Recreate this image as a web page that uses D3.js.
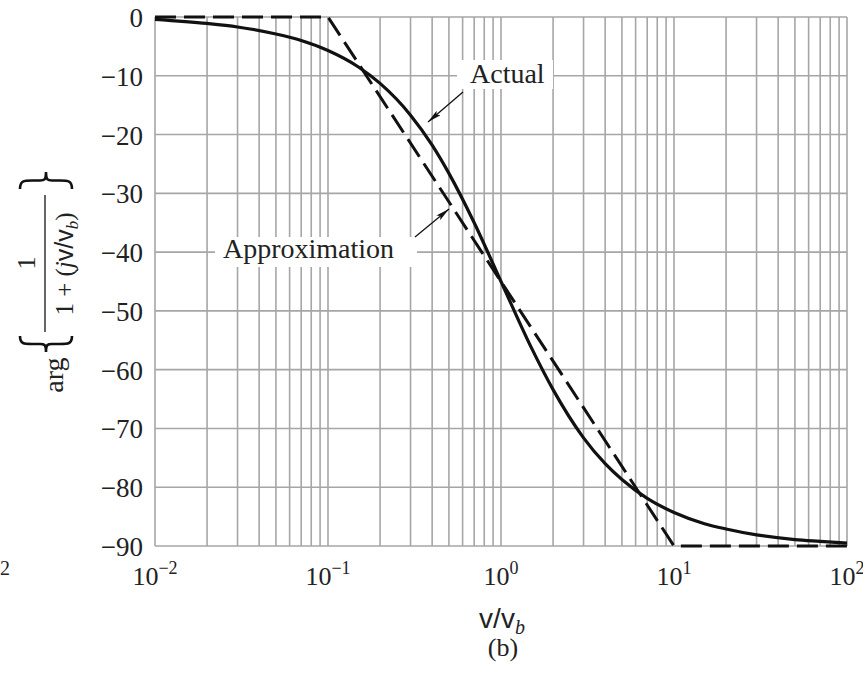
<!DOCTYPE html>
<html><head><meta charset="utf-8">
<script src="https://cdn.jsdelivr.net/npm/d3@7"></script>
<style>body{margin:0;background:#fff}</style>
</head><body>
<svg id="c" width="863" height="680"></svg>
<script>
// ---- data ----
const freq = [0.01,0.02,0.03,0.05,0.07,0.1,0.15,0.2,0.3,0.4,0.5,0.7,1,1.5,2,3,4,5,7,10,15,20,30,50,70,100];
const actualPhase = [-0.4,-1.1,-1.7,-2.9,-4,-5.7,-8.5,-11.3,-16.7,-21.8,-26.6,-35,-45,-56.3,-63.4,-71.6,-76,-78.7,-81.9,-84.3,-86.2,-87.1,-88.1,-88.9,-89.2,-89.5];
const approxFreq = [0.01,0.1,10,100];
const approxPhase = [0,0,-90,-90];
const xTickExp = ["−2","−1","0","1","2"];
const xTickVals = [0.01,0.1,1,10,100];
const yTickVals = [0,-10,-20,-30,-40,-50,-60,-70,-80,-90];
const yTickLabels = ["0","−10","−20","−30","−40","−50","−60","−70","−80","−90"];

const svg = d3.select("#c");
const x = d3.scaleLog().domain([0.01,100]).range([155,847]);
const y = d3.scaleLinear().domain([0,-90]).range([17,546]);
const serif = "'Liberation Serif','Times New Roman',serif";
const sans = "'Liberation Sans',Arial,sans-serif";

// grid
const gridX = [];
for (let k=-2;k<2;k++) for (let m=1;m<10;m++) gridX.push(m*Math.pow(10,k));
gridX.push(100);
const grid = svg.append("g").attr("stroke","#a6a6a6").attr("stroke-width",1.6);
grid.selectAll(".vx").data(gridX).join("line")
  .attr("x1",d=>x(d)).attr("x2",d=>x(d)).attr("y1",y(0)).attr("y2",y(-90));
grid.selectAll(".hy").data(yTickVals).join("line")
  .attr("x1",x(0.01)).attr("x2",x(100)).attr("y1",d=>y(d)).attr("y2",d=>y(d));

// tick labels
svg.append("g").selectAll("text").data(yTickVals).join("text")
  .attr("x",143).attr("y",d=>y(d)+10).attr("text-anchor","end")
  .attr("font-family",serif).attr("font-size",27).attr("fill","#222")
  .text((d,i)=>yTickLabels[i]);
const xt = svg.append("g").selectAll("text").data(xTickVals).join("text")
  .attr("x",d=>x(d)).attr("y",585).attr("text-anchor","middle")
  .attr("font-family",serif).attr("font-size",26).attr("fill","#222");
xt.append("tspan").text("10");
xt.append("tspan").attr("dy",-11).attr("font-size",18).text((d,i)=>xTickExp[i]);

// fragment at left edge
svg.append("text").attr("x",0).attr("y",575).attr("font-family",serif)
  .attr("font-size",20).attr("fill","#222").text("2");

// label boxes
function labelBox(x0,y0,w,h){svg.append("rect").attr("x",x0).attr("y",y0).attr("width",w).attr("height",h).attr("fill","#fff");}
labelBox(457,60,96,29);
labelBox(215,237,202,30);

// curves
const line = d3.line().x(d=>x(d[0])).y(d=>y(d[1]));
svg.append("path").datum(approxFreq.map((f,i)=>[f,approxPhase[i]]))
  .attr("d",line).attr("fill","none").attr("stroke","#111").attr("stroke-width",3)
  .attr("stroke-dasharray","21,8");
svg.append("path").datum(freq.map((f,i)=>[f,actualPhase[i]]))
  .attr("d",line.curve(d3.curveMonotoneX)).attr("fill","none").attr("stroke","#111").attr("stroke-width",3.2);

// annotations
svg.append("text").attr("x",470).attr("y",83).attr("font-family",serif).attr("font-size",28).attr("fill","#222").text("Actual");
svg.append("text").attr("x",223).attr("y",258).attr("font-family",serif).attr("font-size",28).attr("fill","#222").text("Approximation");
const defs = svg.append("defs");
defs.append("marker").attr("id","ah").attr("viewBox","0 0 14 6").attr("refX",14).attr("refY",3)
  .attr("markerWidth",14).attr("markerHeight",6).attr("markerUnits","userSpaceOnUse").attr("orient","auto")
  .append("path").attr("d","M0,0 L14,3 L0,6 L3,3 Z").attr("fill","#111");
svg.append("line").attr("x1",463).attr("y1",92).attr("x2",428).attr("y2",122)
  .attr("stroke","#111").attr("stroke-width",1.3).attr("marker-end","url(#ah)");
svg.append("line").attr("x1",415).attr("y1",237).attr("x2",449).attr("y2",209)
  .attr("stroke","#111").attr("stroke-width",1.3).attr("marker-end","url(#ah)");

// axis labels
const xl = svg.append("text").attr("x",502).attr("y",628).attr("text-anchor","middle")
  .attr("font-family",sans).attr("font-size",28).attr("fill","#222");
xl.append("tspan").text("v/v");
xl.append("tspan").attr("dy",6).attr("font-size",20).attr("font-style","italic").attr("font-family",serif).text("b");
svg.append("text").attr("x",503).attr("y",656).attr("text-anchor","middle")
  .attr("font-family",serif).attr("font-size",26).attr("fill","#222").text("(b)");

// y label (rotated)
const yl = svg.append("g").attr("fill","#222");
yl.append("text").attr("transform","translate(63,375) rotate(-90)").attr("text-anchor","middle")
  .attr("font-family",serif).attr("font-size",28).text("arg");
yl.append("text").attr("transform","translate(35,263) rotate(-90)").attr("text-anchor","middle")
  .attr("font-family",serif).attr("font-size",26).text("1");
yl.append("line").attr("x1",45).attr("x2",45).attr("y1",195).attr("y2",332).attr("stroke","#333").attr("stroke-width",1.5);
const den = yl.append("text").attr("transform","translate(73,264) rotate(-90)").attr("text-anchor","middle")
  .attr("font-family",serif).attr("font-size",25);
den.append("tspan").text("1 + (");
den.append("tspan").attr("font-style","italic").text("j");
den.append("tspan").attr("font-family",sans).text("v/v");
den.append("tspan").attr("dy",5).attr("font-size",17).attr("font-style","italic").text("b");
den.append("tspan").attr("dy",-5).text(")");
function brace(cx, yTip, yEnd){
  const s = yEnd>yTip?1:-1, h=Math.abs(yEnd-yTip), m=yTip+s*h*0.5;
  const p = `M${cx-26},${yEnd} C${cx-26},${m} ${cx-22},${m} ${cx-14},${m} L${cx-6},${m} C${cx-2},${m} ${cx},${m} ${cx},${yTip} C${cx},${m} ${cx+2},${m} ${cx+6},${m} L${cx+14},${m} C${cx+22},${m} ${cx+26},${m} ${cx+26},${yEnd}`;
  yl.append("path").attr("d",p).attr("fill","none").attr("stroke","#111").attr("stroke-width",2.6);
}
brace(46,172,189);
brace(46,352,336);
</script>
</body></html>
